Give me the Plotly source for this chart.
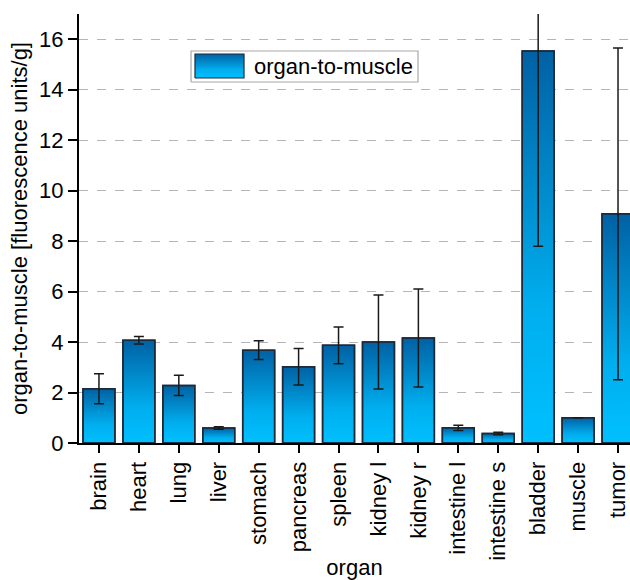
import plotly.graph_objects as go

organs = ["brain", "heart", "lung", "liver", "stomach", "pancreas", "spleen",
          "kidney l", "kidney r", "intestine l", "intestine s", "bladder", "muscle", "tumor"]
ratio = [2.15, 4.07, 2.28, 0.59, 3.68, 3.02, 3.87, 4.00, 4.16, 0.60, 0.38, 15.53, 1.00, 9.08]
err = [0.59, 0.15, 0.40, 0.05, 0.37, 0.72, 0.73, 1.86, 1.94, 0.10, 0.05, 7.73, None, 6.57]
y_ticks = [0, 2, 4, 6, 8, 10, 12, 14, 16]
series_name = "organ-to-muscle"

FONT = "Liberation Sans, Arial, sans-serif"
OUTLINE = "#1b2b3b"
grad = [[0, "#00C0FF"], [0.35, "#00AEEE"], [1, "#0061A4"]]
half = 0.4
idx = list(range(len(organs)))

fig = go.Figure()

# gradient fills (base subplot)
for i, v in zip(idx, ratio):
    fig.add_trace(go.Scatter(
        x=[i - half, i + half, i + half, i - half, i - half],
        y=[0, 0, v, v, 0],
        mode="lines", fill="toself",
        fillgradient=dict(type="vertical", colorscale=grad),
        line=dict(color=OUTLINE, width=1.5),
        name=series_name, showlegend=False, hoverinfo="skip",
        xaxis="x", yaxis="y",
    ))

# bars with outline and error bars (overlay subplot)
fig.add_trace(go.Bar(
    x=idx, y=ratio, width=2 * half, name=series_name,
    marker=dict(color="rgba(0,0,0,0)", line=dict(color=OUTLINE, width=1.5)),
    error_y=dict(type="data", array=err, visible=True, color="#1a1a1a",
                 thickness=1.5, width=5),
    showlegend=False, xaxis="x2", yaxis="y2",
))

# legend drawn in paper-like overlay axes (x3/y3 span 0..1)
box = dict(x0=0.2033, x1=0.6152, y0=0.8415, y1=0.9138)
sw = dict(x0=0.2105, x1=0.2995, y0=0.8508, y1=0.9068)
fig.add_trace(go.Scatter(
    x=[box["x0"], box["x1"], box["x1"], box["x0"], box["x0"]],
    y=[box["y0"], box["y0"], box["y1"], box["y1"], box["y0"]],
    mode="lines", fill="toself", fillcolor="white",
    line=dict(color="#a8a8a8", width=1.2),
    showlegend=False, hoverinfo="skip", xaxis="x3", yaxis="y3",
))
fig.add_trace(go.Scatter(
    x=[sw["x0"], sw["x1"], sw["x1"], sw["x0"], sw["x0"]],
    y=[sw["y0"], sw["y0"], sw["y1"], sw["y1"], sw["y0"]],
    mode="lines", fill="toself",
    fillgradient=dict(type="vertical", colorscale=grad),
    line=dict(color=OUTLINE, width=1.2),
    showlegend=False, hoverinfo="skip", xaxis="x3", yaxis="y3",
))
fig.add_annotation(
    x=0.3145, y=(box["y0"] + box["y1"]) / 2, xref="paper", yref="paper",
    text=series_name, showarrow=False, xanchor="left", yanchor="middle",
    font=dict(size=22, color="black"),
)

xr = [-0.5, 13.3]
yr = [0, 17]
fig.update_layout(
    width=630, height=580,
    margin=dict(l=79, r=0, t=14, b=137),
    paper_bgcolor="white", plot_bgcolor="white",
    font=dict(family=FONT, size=22, color="black"),
    showlegend=False,
    xaxis=dict(range=xr, tickvals=idx, ticktext=organs, tickangle=-90,
               showline=True, linecolor="black", linewidth=2,
               ticks="outside", ticklen=8, tickwidth=1.5, tickcolor="black",
               showgrid=False, zeroline=False, automargin=False,
               tickfont=dict(size=22), ticklabeloverflow="allow",
               title=dict(text="organ", standoff=4, font=dict(size=22))),
    yaxis=dict(range=yr, tickvals=y_ticks,
               showline=True, linecolor="black", linewidth=2,
               ticks="outside", ticklen=9, tickwidth=1.5, tickcolor="black",
               showgrid=True, gridcolor="#b5b5b5", griddash="dash", gridwidth=1,
               zeroline=False, automargin=False,
               tickfont=dict(size=22), ticklabeloverflow="allow",
               title=dict(text="organ-to-muscle [fluorescence units/g]", standoff=5,
                          font=dict(size=22))),
    xaxis2=dict(range=xr, overlaying="x", visible=False),
    yaxis2=dict(range=yr, overlaying="y", visible=False),
    xaxis3=dict(range=[0, 1], overlaying="x", visible=False),
    yaxis3=dict(range=[0, 1], overlaying="y", visible=False),
)

fig.write_html(
    "out.html",
    config={"displayModeBar": False},
    post_script="document.body.style.margin='0';document.body.style.padding='0';",
)
